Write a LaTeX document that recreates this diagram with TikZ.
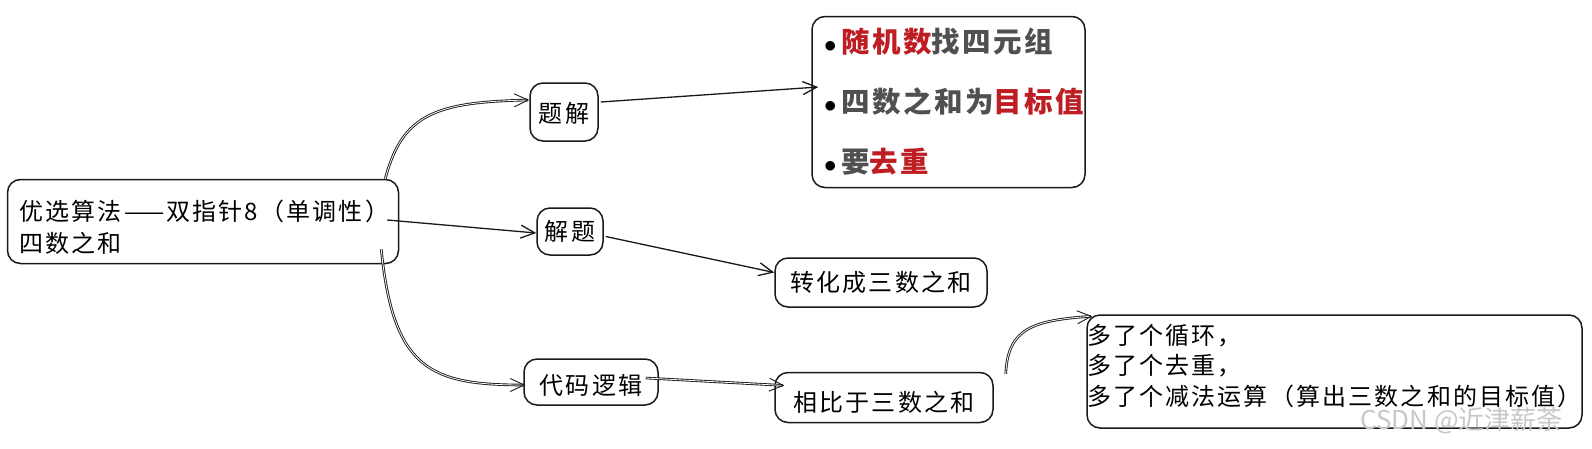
\documentclass[tikz,border=0pt]{standalone}
\usepackage{fontspec}
\setmainfont{Noto Sans CJK SC}[LetterSpace=9]
\newfontfamily\wmfont{Noto Sans CJK SC}
\usetikzlibrary{arrows.meta}
\definecolor{txtgray}{HTML}{505050}
\definecolor{hired}{HTML}{BE1E23}
\definecolor{wmgray}{HTML}{C8C8C8}
\newcommand\dropby[2]{\raisebox{-#1}[\height][\depth]{#2}}
\tikzset{
  box/.style={draw=black!90, line width=1.5pt, rounded corners=13pt, fill=white, inner sep=0pt},
  conn/.style={draw=black!90, line width=1.3pt, -{Straight Barb[length=14pt,width=13pt]}},
  dconn/.style={conn, double=white, double distance=0.8pt, line width=0.9pt},
  ftext/.style={font=\fontsize{24}{30}\selectfont},
}
\begin{document}
\begin{tikzpicture}[x=1pt,y=-1pt]
\useasboundingbox (0,0) rectangle (1592,448);
% boxes
\node[box,font=\fontsize{24}{32}\selectfont,minimum width=391pt,minimum height=84pt] (main) at (203,221.5)
  {\dropby{6pt}{\parbox{367pt}{\mbox{优选算法——双指针8（单调性）}\\\mbox{四数之和}}}};
\node[box,ftext,minimum width=68pt,minimum height=58pt] (t1) at (564,112) {\dropby{1pt}{题解}};
\node[box,ftext,minimum width=66pt,minimum height=47pt] (t2) at (570,231.5) {解题};
\node[box,minimum width=273pt,minimum height=171pt,text width=273pt,align=left,text=txtgray,
  font=\fontsize{28.5}{60}\selectfont\bfseries] (bul) at (948.5,102)
  {\hspace*{12pt}\makebox[17pt][l]{\color{black}$\bullet$}\mbox{{\color{hired}随机数}找四元组}\\
   \hspace*{12pt}\makebox[17pt][l]{\color{black}$\bullet$}\mbox{四数之和为{\color{hired}目标值}}\\
   \hspace*{12pt}\makebox[17pt][l]{\color{black}$\bullet$}\mbox{要{\color{hired}去重}}};
\node[box,ftext,minimum width=212pt,minimum height=49pt] (zh) at (881,282.5) {转化成三数之和};
\node[box,ftext,minimum width=134pt,minimum height=46pt] (dm) at (591,382) {\dropby{3pt}{代码逻辑}};
\node[box,ftext,minimum width=218pt,minimum height=50pt] (xb) at (884,397.5) {\dropby{5pt}{相比于三数之和}};
\node[box,font=\fontsize{24}{30.5}\selectfont,minimum width=495pt,minimum height=113pt,text width=495pt,align=left] (last) at (1334.5,371.5)
  {\mbox{多了个循环，}\\\mbox{多了个去重，}\\\mbox{多了个减法运算（算出三数之和的目标值）}\\[-17pt]\mbox{}};
\node[font=\wmfont\fontsize{26}{26}\selectfont,text=wmgray,anchor=west,inner sep=0pt] (wm) at (1360,421) {CSDN @近津薪荼};
% connectors
\draw[dconn] ([xshift=-14pt]main.north east) .. controls +(17,-64) and +(-95,2) .. ([yshift=12pt]t1.west);
\draw[conn] ([xshift=2pt,yshift=10pt]t1.east) -- ([xshift=7pt,yshift=15pt]bul.west);
\draw[conn] ([xshift=-12pt,yshift=1.5pt]main.east) -- ([yshift=-1.5pt]t2.west);
\draw[conn] ([xshift=2pt,yshift=-5pt]t2.east) -- ([yshift=10pt]zh.west);
\draw[dconn] ([xshift=-18pt,yshift=15pt]main.south east) .. controls +(12,120) and +(-95,0) .. ([xshift=2pt,yshift=-3pt]dm.west);
\draw[dconn] ([xshift=-13pt,yshift=4pt]dm.east) -- ([xshift=10pt,yshift=12pt]xb.west);
\draw[dconn] ([xshift=12pt,yshift=-2pt]xb.north east) .. controls +(2,-45) and +(-60,4) .. ([xshift=6pt,yshift=-2pt]last.north west);
\end{tikzpicture}
\end{document}
